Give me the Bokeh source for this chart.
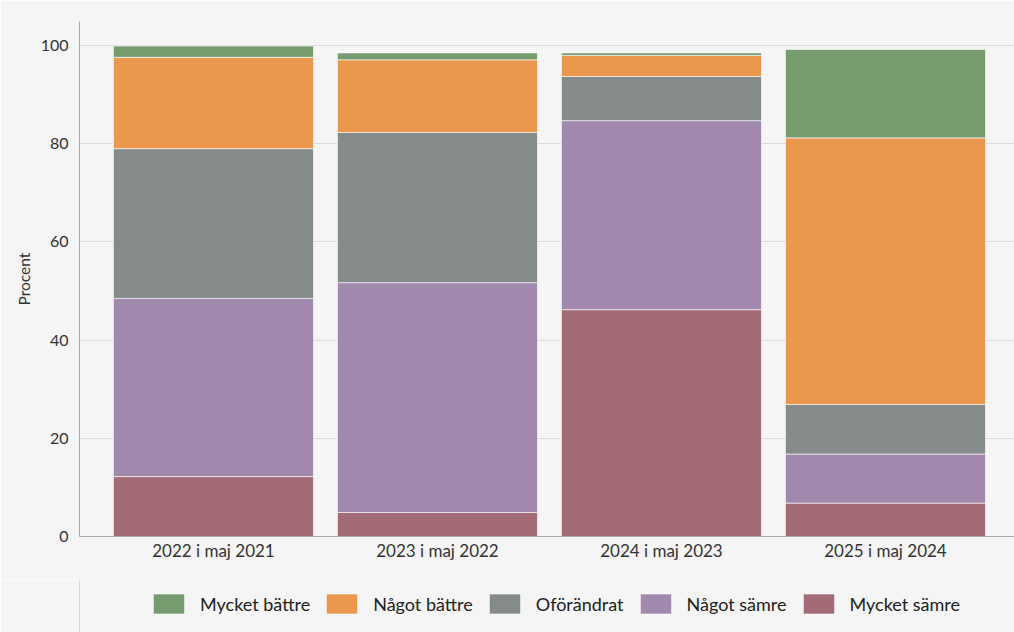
from bokeh.plotting import figure
from bokeh.layouts import column
from bokeh.models import Range1d, FixedTicker, Legend, LegendItem, ColumnDataSource
from bokeh.embed import file_html
from bokeh.resources import INLINE

categories = ["2022 i maj 2021", "2023 i maj 2022", "2024 i maj 2023", "2025 i maj 2024"]
series = ["Mycket sämre", "Något sämre", "Oförändrat", "Något bättre", "Mycket bättre"]
mycket_samre = [12.2, 4.9, 46.2, 6.8]
nagot_samre = [36.3, 46.8, 38.5, 10.0]
oforandrat = [30.5, 30.6, 9.0, 10.1]
nagot_battre = [18.6, 14.8, 4.3, 54.3]
mycket_battre = [2.3, 1.4, 0.5, 18.0]
y_ticks = [0, 20, 40, 60, 80, 100]

colors = ["#a36b76", "#a188ad", "#858a8b", "#e9984d", "#769b6f"]
FONT = "Lato"
BG = "#f5f5f5"

x = list(range(len(categories)))
keys = ["s0", "s1", "s2", "s3", "s4"]
source = ColumnDataSource(dict(x=x, s0=mycket_samre, s1=nagot_samre, s2=oforandrat,
                               s3=nagot_battre, s4=mycket_battre))

p = figure(width=1014, height=580,
           x_range=Range1d(-0.598, 3.576), y_range=Range1d(0, 104.9),
           output_backend="svg", toolbar_location=None,
           min_border_left=79, min_border_right=0, min_border_top=21, min_border_bottom=44)
p.background_fill_color = BG
p.border_fill_color = BG
p.outline_line_color = None

renderers = p.vbar_stack(keys, x="x", width=0.893, source=source, color=colors,
                         line_color="white", line_alpha=0.6, line_width=1)

# axes
p.xaxis.ticker = FixedTicker(ticks=x)
p.xaxis.major_label_overrides = {i: c for i, c in zip(x, categories)}
p.yaxis.ticker = FixedTicker(ticks=y_ticks)
for ax in (p.xaxis[0], p.yaxis[0]):
    ax.major_tick_line_color = None
    ax.minor_tick_line_color = None
    ax.major_tick_out = 0
    ax.major_tick_in = 0
    ax.axis_line_color = "#a8a8a8"
    ax.major_label_text_font = FONT
    ax.major_label_text_color = "#333333"
p.xaxis.major_label_text_font_size = "17px"
p.yaxis.major_label_text_font_size = "16px"
p.xaxis.major_label_standoff = 3
p.yaxis.major_label_standoff = 11
p.yaxis.axis_label = "Procent"
p.yaxis.axis_label_text_font = FONT
p.yaxis.axis_label_text_font_style = "normal"
p.yaxis.axis_label_text_font_size = "15.5px"
p.yaxis.axis_label_text_color = "#333333"
p.yaxis.axis_label_standoff = 5

p.xgrid.grid_line_color = None
p.ygrid.grid_line_color = "#dcdcdc"
p.ygrid.grid_line_width = 1

# legend strip below the chart (swatch renderers sit outside the visible range)
pl = figure(width=1014, height=52, output_backend="svg", toolbar_location=None,
            x_range=Range1d(0, 1), y_range=Range1d(0, 1),
            x_axis_type=None, y_axis_type=None,
            min_border_left=0, min_border_right=0, min_border_top=0, min_border_bottom=0)
pl.background_fill_color = BG
pl.border_fill_color = BG
pl.outline_line_color = None
pl.grid.grid_line_color = None
swatches = [pl.vbar(x=[-10], top=[1], width=0.9, color=c, line_color="white", line_alpha=0.6)
            for c in colors]

items = [LegendItem(label=series[i], renderers=[swatches[i]]) for i in reversed(range(len(series)))]
legend = Legend(items=items, orientation="horizontal", location=(70, 16),
                glyph_width=39, glyph_height=25, label_standoff=12, spacing=12,
                padding=0, margin=0, border_line_color=None, background_fill_alpha=0,
                label_text_font=FONT, label_text_font_size="18px", label_text_color="#222222")
pl.add_layout(legend)

open("out.html", "w").write(file_html(column(p, pl, spacing=0), INLINE))
